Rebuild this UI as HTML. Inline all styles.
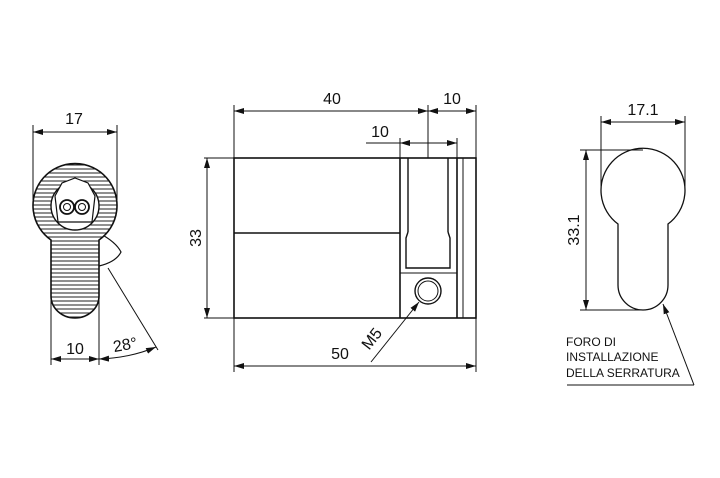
<!DOCTYPE html>
<html><head><style>body{margin:0;background:#fff}svg{display:block}text{font-family:"Liberation Sans",sans-serif;fill:#111}</style></head><body>
<svg width="720" height="478" viewBox="0 0 720 478" xmlns="http://www.w3.org/2000/svg">
<defs>
<marker id="a" viewBox="0 0 10 6" refX="10" refY="3" markerWidth="10" markerHeight="6" orient="auto-start-reverse" markerUnits="userSpaceOnUse"><path d="M0,0L10,3L0,6z" fill="#111"/></marker>
<pattern id="h" width="10" height="4" patternUnits="userSpaceOnUse"><rect width="10" height="4" fill="#fff"/><line x1="0" y1="1" x2="10" y2="1" stroke="#222" stroke-width="1"/></pattern>
</defs>
<g stroke="#111" fill="none" stroke-width="1">
<!-- left view -->
<path d="M99,233 Q116,242 121,252 Q116,262 99,266" stroke-width="1.2"/>
<path d="M51,240 A42,42 0 1 1 99,240 L99,296 A24,22 0 0 1 51,296 Z" fill="url(#h)" stroke-width="1.6"/>
<circle cx="75" cy="206" r="24" fill="#fff" stroke-width="1.4"/>
<path d="M55,196 L62,183 L75,178 L88,183 L95,196 L92,222 L58,222 Z" fill="#fff" stroke-width="1.2"/>
<circle cx="67" cy="207" r="7" stroke-width="1.8"/><circle cx="67" cy="207" r="3.5"/>
<circle cx="82" cy="207" r="7" stroke-width="1.8"/><circle cx="82" cy="207" r="3.5"/>
<line x1="33" y1="125" x2="33" y2="200"/><line x1="117" y1="125" x2="117" y2="200"/>
<line x1="33" y1="132" x2="117" y2="132" marker-start="url(#a)" marker-end="url(#a)"/>
<line x1="51" y1="300" x2="51" y2="365"/><line x1="99" y1="300" x2="99" y2="365"/>
<line x1="51" y1="359" x2="99" y2="359" marker-start="url(#a)" marker-end="url(#a)"/>
<line x1="108" y1="268" x2="158" y2="350"/>
<path d="M99,359 Q130,358 156,347" marker-start="url(#a)" marker-end="url(#a)"/>
<!-- middle view -->
<rect x="234" y="158" width="242" height="160" stroke-width="1.6"/>
<line x1="234" y1="233" x2="400" y2="233" stroke-width="1.4"/>
<line x1="400" y1="158" x2="400" y2="318" stroke-width="1.6"/>
<line x1="457" y1="158" x2="457" y2="318" stroke-width="1.6"/>
<line x1="408" y1="158" x2="408" y2="232" stroke-width="1.4"/>
<line x1="448" y1="158" x2="448" y2="232" stroke-width="1.4"/>
<path d="M408,232 L406,238 L406,268 L450,268 L450,238 L448,232" stroke-width="1.4"/>
<line x1="400" y1="273" x2="457" y2="273"/>
<line x1="463" y1="158" x2="463" y2="318"/>
<circle cx="428" cy="291" r="13" stroke-width="1.4"/><circle cx="428" cy="291" r="10"/>
<line x1="234" y1="105" x2="234" y2="158"/>
<line x1="476" y1="105" x2="476" y2="158"/>
<line x1="428" y1="105" x2="428" y2="158"/>
<line x1="234" y1="111" x2="428" y2="111" marker-start="url(#a)" marker-end="url(#a)"/>
<line x1="428" y1="111" x2="476" y2="111" marker-start="url(#a)" marker-end="url(#a)"/>
<line x1="400" y1="138" x2="400" y2="158"/><line x1="457" y1="138" x2="457" y2="158"/>
<line x1="366" y1="143" x2="400" y2="143"/>
<line x1="400" y1="143" x2="457" y2="143" marker-start="url(#a)" marker-end="url(#a)"/>
<line x1="204" y1="158" x2="234" y2="158"/><line x1="204" y1="318" x2="234" y2="318"/>
<line x1="207" y1="158" x2="207" y2="318" marker-start="url(#a)" marker-end="url(#a)"/>
<line x1="234" y1="318" x2="234" y2="372"/><line x1="476" y1="318" x2="476" y2="372"/>
<line x1="234" y1="366" x2="476" y2="366" marker-start="url(#a)" marker-end="url(#a)"/>
<line x1="371" y1="362" x2="419" y2="302" marker-end="url(#a)"/>
<!-- right view -->
<path d="M618,224 A42,42 0 1 1 668,224 L668,285 A25,25 0 0 1 618,285 Z" stroke-width="1.3"/>
<line x1="601" y1="116" x2="601" y2="190"/><line x1="685" y1="116" x2="685" y2="190"/>
<line x1="601" y1="122" x2="685" y2="122" marker-start="url(#a)" marker-end="url(#a)"/>
<line x1="580" y1="150" x2="643" y2="150"/><line x1="580" y1="310" x2="643" y2="310"/>
<line x1="586" y1="150" x2="586" y2="310" marker-start="url(#a)" marker-end="url(#a)"/>
<line x1="567" y1="385" x2="694" y2="385"/>
<line x1="694" y1="385" x2="663" y2="304" marker-end="url(#a)"/>
</g>
<g font-size="16" text-anchor="middle">
<text x="74" y="124">17</text>
<text x="75" y="354">10</text>
<text x="126" y="350" transform="rotate(-10 126 350)">28°</text>
<text x="332" y="104">40</text>
<text x="452" y="104">10</text>
<text x="380" y="137">10</text>
<text x="201" y="238" transform="rotate(-90 201 238)">33</text>
<text x="340" y="359">50</text>
<text x="376" y="342" transform="rotate(-52 376 342)">M5</text>
<text x="643" y="115">17.1</text>
<text x="579" y="230" transform="rotate(-90 579 230)">33.1</text>
</g>
<g font-size="12">
<text x="566" y="346">FORO DI</text>
<text x="566" y="361">INSTALLAZIONE</text>
<text x="566" y="377">DELLA SERRATURA</text>
</g>
</svg>
</body></html>
